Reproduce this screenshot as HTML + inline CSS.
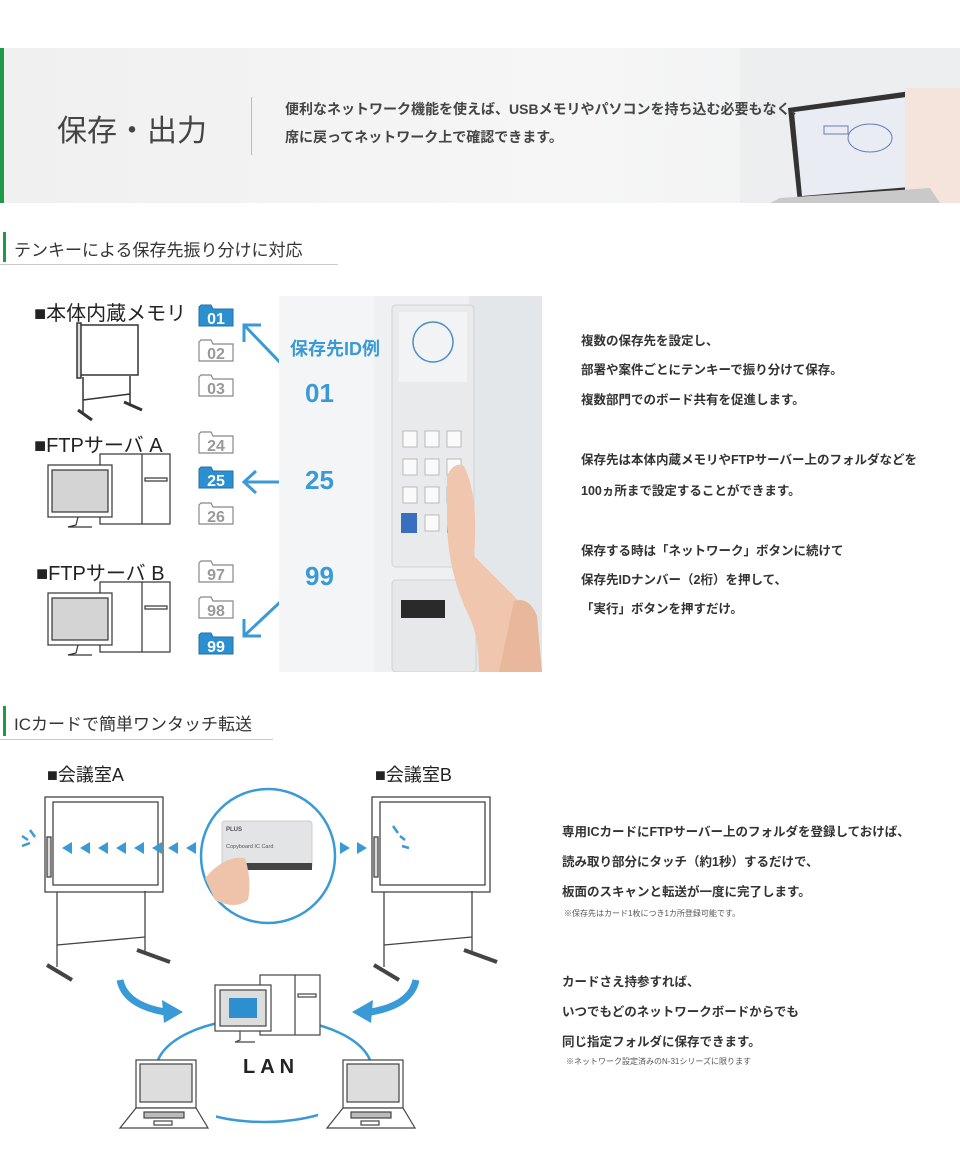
<!DOCTYPE html>
<html><head><meta charset="utf-8">
<style>
*{margin:0;padding:0;box-sizing:border-box}
body{width:960px;height:1158px;background:#fff;position:relative;overflow:hidden;font-family:"Liberation Sans","Noto Sans CJK JP",sans-serif;color:#333}
.a{position:absolute;white-space:nowrap}
.t{font-size:12.5px;font-weight:bold;color:#333}
.n{font-size:8px;color:#555}
</style></head><body>
<!-- header -->
<div class="a" style="left:0;top:48px;width:960px;height:155px;background:linear-gradient(90deg,#f0f0f0,#f6f6f6 60%,#eef0f2)"></div>
<svg class="a" style="left:740px;top:48px" width="220" height="155">
<rect x="0" y="0" width="220" height="155" fill="#eceeef"/>
<polygon points="48,60 178,42 188,145 58,155" fill="#333"/>
<polygon points="54,64 174,48 182,138 62,148" fill="#e9edf3"/>
<ellipse cx="130" cy="90" rx="22" ry="14" fill="none" stroke="#6a7ab8"/>
<rect x="84" y="78" width="24" height="8" fill="none" stroke="#6a7ab8"/>
<rect x="165" y="40" width="55" height="115" fill="#f4e4dc"/>
<polygon points="40,150 190,140 200,155 30,155" fill="#c9c9c9"/>
</svg>
<div class="a" style="left:0;top:48px;width:4px;height:155px;background:#1f9a48"></div>
<div class="a" style="left:57px;top:106px;font-size:30px;color:#444">保存・出力</div>
<div class="a" style="left:251px;top:97px;width:1px;height:58px;background:#bbb"></div>
<div class="a" style="left:285px;top:99px;font-size:14px;font-weight:bold;color:#444">便利なネットワーク機能を使えば、USBメモリやパソコンを持ち込む必要もなく、</div>
<div class="a" style="left:285px;top:127px;font-size:14px;font-weight:bold;color:#444">席に戻ってネットワーク上で確認できます。</div>
<!-- section1 heading -->
<div class="a" style="left:3px;top:232px;width:3px;height:30px;background:#1f9a48"></div>
<div class="a" style="left:14px;top:236px;font-size:17px;color:#333">テンキーによる保存先振り分けに対応</div>
<div class="a" style="left:0;top:264px;width:338px;height:1px;background:#ccc"></div>
<!-- left labels -->
<div class="a" style="left:34px;top:297px;font-size:20px;color:#222">■本体内蔵メモリ</div>
<div class="a" style="left:34px;top:429px;font-size:20px;color:#222">■FTPサーバ A</div>
<div class="a" style="left:36px;top:557px;font-size:20px;color:#222">■FTPサーバ B</div>
<svg class="a" style="left:0;top:290px" width="280" height="380">
<defs>
<g id="fw"><path d="M0,4 L0,23 L34,23 L34,6 L14,6 L12,2 L2,2 Z" fill="#fff" stroke="#888" stroke-width="1.2"/></g>
<g id="fb"><path d="M0,4 L0,23 L34,23 L34,6 L14,6 L12,2 L2,2 Z" fill="#2b8fd0" stroke="#236fa6" stroke-width="1"/></g>
</defs>
<!-- whiteboard -->
<g stroke="#333" fill="none" stroke-width="1.5">
<rect x="80" y="35" width="58" height="50" fill="#fff"/>
<rect x="77" y="33" width="4" height="55" fill="#ddd"/>
<line x1="83" y1="87" x2="83" y2="122"/><line x1="130" y1="86" x2="130" y2="115"/>
<line x1="83" y1="110" x2="130" y2="104"/>
<line x1="78" y1="120" x2="92" y2="130" stroke-width="3"/><line x1="124" y1="112" x2="142" y2="120" stroke-width="3"/>
</g>
<!-- computer A -->
<g stroke="#333" stroke-width="1.2">
<rect x="100" y="164" width="70" height="70" fill="#fff"/>
<line x1="142" y1="164" x2="142" y2="234"/>
<rect x="145" y="188" width="22" height="3" fill="#fff"/>
<rect x="48" y="175" width="64" height="52" fill="#fff"/>
<rect x="52" y="180" width="56" height="42" fill="#d4d4d4"/>
<path d="M78,227 L76,235 L68,237 L92,237" fill="none"/>
</g>
<g stroke="#333" stroke-width="1.2" transform="translate(0,128)">
<rect x="100" y="164" width="70" height="70" fill="#fff"/>
<line x1="142" y1="164" x2="142" y2="234"/>
<rect x="145" y="188" width="22" height="3" fill="#fff"/>
<rect x="48" y="175" width="64" height="52" fill="#fff"/>
<rect x="52" y="180" width="56" height="42" fill="#d4d4d4"/>
<path d="M78,227 L76,235 L68,237 L92,237" fill="none"/>
</g>
<!-- folders -->
<g font-family="Liberation Sans,sans-serif" font-size="16" font-weight="bold" text-anchor="middle">
<use href="#fb" x="199" y="13"/><text x="216" y="34" fill="#fff">01</text>
<use href="#fw" x="199" y="48"/><text x="216" y="69" fill="#999">02</text>
<use href="#fw" x="199" y="83"/><text x="216" y="104" fill="#999">03</text>
<use href="#fw" x="199" y="140"/><text x="216" y="161" fill="#999">24</text>
<use href="#fb" x="199" y="175"/><text x="216" y="196" fill="#fff">25</text>
<use href="#fw" x="199" y="211"/><text x="216" y="232" fill="#999">26</text>
<use href="#fw" x="199" y="269"/><text x="216" y="290" fill="#999">97</text>
<use href="#fw" x="199" y="305"/><text x="216" y="326" fill="#999">98</text>
<use href="#fb" x="199" y="341"/><text x="216" y="362" fill="#fff">99</text>
</g>
<g stroke="#3a9ad6" stroke-width="3" fill="none">
<line x1="295" y1="88" x2="245" y2="36"/><polyline points="244,52 244,35 261,35"/>
<line x1="297" y1="192" x2="245" y2="192"/><polyline points="256,181 244,192 256,203"/>
<line x1="293" y1="300" x2="245" y2="345"/><polyline points="244,329 244,346 261,346"/>
</g>
</svg>
<!-- photo -->
<svg class="a" style="left:279px;top:296px" width="263" height="376">
<rect width="263" height="376" fill="#eef0f1"/>
<rect x="0" y="0" width="95" height="376" fill="#f4f5f6"/>
<rect x="190" y="0" width="73" height="376" fill="#e4e7e9"/>
<rect x="113" y="9" width="82" height="262" rx="4" fill="#e8eaeb" stroke="#cfd3d6"/>
<rect x="120" y="16" width="68" height="70" fill="#f2f3f4"/>
<circle cx="154" cy="46" r="20" fill="none" stroke="#4a8fc8" stroke-width="1.5"/>
<g fill="#fafafa" stroke="#bbb">
<rect x="124" y="135" width="14" height="16"/><rect x="146" y="135" width="14" height="16"/><rect x="168" y="135" width="14" height="16"/>
<rect x="124" y="163" width="14" height="16"/><rect x="146" y="163" width="14" height="16"/><rect x="168" y="163" width="14" height="16"/>
<rect x="124" y="191" width="14" height="16"/><rect x="146" y="191" width="14" height="16"/><rect x="168" y="191" width="14" height="16"/>
<rect x="146" y="219" width="14" height="16"/>
</g>
<rect x="122" y="217" width="16" height="20" fill="#3a6fc0"/><rect x="168" y="217" width="16" height="20" fill="#d0455a"/>
<rect x="113" y="284" width="84" height="92" rx="4" fill="#e6e8e9" stroke="#cfd3d6"/>
<rect x="122" y="304" width="44" height="18" fill="#2a2a2a"/>
<path d="M168,180 Q175,165 185,170 Q200,200 195,260 L235,300 Q260,330 263,376 L200,376 Q200,340 190,320 Q170,280 168,230 Z" fill="#f0c6ae"/>
<path d="M235,305 Q250,300 258,320 L263,376 L220,376 Z" fill="#e9b89c"/>
</svg>
<div class="a" style="left:290px;top:335px;font-size:18px;font-weight:bold;color:#3a9ad6">保存先ID例</div>
<div class="a" style="left:305px;top:378px;font-size:26px;font-weight:bold;color:#3a9ad6">01</div>
<div class="a" style="left:305px;top:465px;font-size:26px;font-weight:bold;color:#3a9ad6">25</div>
<div class="a" style="left:305px;top:561px;font-size:26px;font-weight:bold;color:#3a9ad6">99</div>
<!-- right text 1 -->
<div class="a t" style="left:581px;top:330px">複数の保存先を設定し、</div>
<div class="a t" style="left:581px;top:359px">部署や案件ごとにテンキーで振り分けて保存。</div>
<div class="a t" style="left:581px;top:389px">複数部門でのボード共有を促進します。</div>
<div class="a t" style="left:581px;top:449px">保存先は本体内蔵メモリやFTPサーバー上のフォルダなどを</div>
<div class="a t" style="left:581px;top:480px">100ヵ所まで設定することができます。</div>
<div class="a t" style="left:581px;top:540px">保存する時は「ネットワーク」ボタンに続けて</div>
<div class="a t" style="left:581px;top:569px">保存先IDナンバー（2桁）を押して、</div>
<div class="a t" style="left:581px;top:598px">「実行」ボタンを押すだけ。</div>
<!-- section2 heading -->
<div class="a" style="left:3px;top:706px;width:3px;height:30px;background:#1f9a48"></div>
<div class="a" style="left:14px;top:710px;font-size:17px;color:#333">ICカードで簡単ワンタッチ転送</div>
<div class="a" style="left:0;top:739px;width:273px;height:1px;background:#ccc"></div>
<div class="a" style="left:47px;top:761px;font-size:18px;color:#222">■会議室A</div>
<div class="a" style="left:375px;top:761px;font-size:18px;color:#222">■会議室B</div>
<svg class="a" style="left:0;top:750px" width="520" height="408">
<defs>
<g id="wb" stroke="#444" stroke-width="1.3" fill="#fff">
<rect x="0" y="0" width="118" height="95"/>
<rect x="8" y="5" width="105" height="83"/>
<rect x="2" y="40" width="4" height="40" fill="#ddd"/>
<line x1="12" y1="95" x2="12" y2="170" fill="none"/><line x1="100" y1="94" x2="100" y2="155" fill="none"/>
<line x1="12" y1="148" x2="100" y2="140" fill="none"/>
<line x1="2" y1="168" x2="27" y2="183" stroke-width="4"/><line x1="92" y1="153" x2="125" y2="165" stroke-width="4"/>
</g>
<g id="lp" stroke="#444" stroke-width="1.2" fill="#fff">
<rect x="16" y="0" width="60" height="48"/><rect x="20" y="4" width="52" height="38" fill="#ddd"/>
<path d="M16,48 L0,68 L88,68 L76,48 Z"/>
<rect x="24" y="52" width="40" height="6" fill="#bbb"/><rect x="34" y="61" width="18" height="4"/>
</g>
</defs>
<use href="#wb" x="45" y="47"/>
<use href="#wb" x="372" y="47"/>
<g fill="#3a9ad6">
<polygon points="62,98 72,92 72,104"/><polygon points="80,98 90,92 90,104"/><polygon points="98,98 108,92 108,104"/><polygon points="116,98 126,92 126,104"/><polygon points="134,98 144,92 144,104"/><polygon points="152,98 162,92 162,104"/><polygon points="168,98 178,92 178,104"/><polygon points="186,98 196,92 196,104"/>
<polygon points="350,98 340,92 340,104"/><polygon points="367,98 357,92 357,104"/>
</g>
<g stroke="#3a9ad6" stroke-width="2.5">
<line x1="22" y1="96" x2="30" y2="93"/><line x1="30" y1="80" x2="35" y2="87"/><line x1="22" y1="86" x2="28" y2="90"/>
<line x1="393" y1="76" x2="398" y2="83"/><line x1="400" y1="86" x2="405" y2="90"/><line x1="402" y1="96" x2="409" y2="98"/>
</g>
<circle cx="268" cy="106" r="67" fill="#fff" stroke="#3a9ad6" stroke-width="2.5"/>
<rect x="222" y="71" width="90" height="47" rx="3" fill="#e2e4e6" stroke="#ccc"/>
<rect x="222" y="113" width="90" height="7" fill="#444"/>
<text x="226" y="81" font-size="6" font-weight="bold" fill="#555">PLUS</text>
<text x="226" y="98" font-size="5.5" fill="#555">Copyboard IC Card</text>
<path d="M205,128 Q225,105 245,108 Q252,130 248,150 Q235,160 215,150 Z" fill="#efc3aa"/>
<!-- curved arrows -->
<path d="M120,230 Q125,255 165,262" fill="none" stroke="#3a9ad6" stroke-width="7"/>
<polygon points="183,262 162,250 164,273" fill="#3a9ad6"/>
<path d="M416,230 Q411,255 371,262" fill="none" stroke="#3a9ad6" stroke-width="7"/>
<polygon points="352,262 373,250 371,273" fill="#3a9ad6"/>
<!-- LAN ellipse -->
<ellipse cx="264" cy="320" rx="108" ry="52" fill="none" stroke="#3a9ad6" stroke-width="2.5"/>
<!-- server -->
<g stroke="#444" stroke-width="1.2" fill="#fff">
<rect x="260" y="225" width="60" height="60"/><line x1="295" y1="225" x2="295" y2="285"/>
<rect x="298" y="244" width="18" height="3"/>
<rect x="215" y="235" width="56" height="46"/><rect x="220" y="240" width="46" height="36" fill="#ddd"/>
<path d="M240,281 L240,290 L235,292 L255,292"/>
</g>
<rect x="229" y="248" width="28" height="20" fill="#2b8fd0"/>
<rect x="120" y="310" width="96" height="70" fill="#fff"/>
<rect x="318" y="310" width="96" height="70" fill="#fff"/>
<use href="#lp" x="120" y="310"/>
<use href="#lp" x="327" y="310"/>
<text x="243" y="323" font-size="20" font-weight="bold" fill="#222" letter-spacing="5" font-family="Liberation Sans,sans-serif">LAN</text>
</svg>
<!-- right text 2 -->
<div class="a t" style="left:562px;top:821px">専用ICカードにFTPサーバー上のフォルダを登録しておけば、</div>
<div class="a t" style="left:562px;top:851px">読み取り部分にタッチ（約1秒）するだけで、</div>
<div class="a t" style="left:562px;top:881px">板面のスキャンと転送が一度に完了します。</div>
<div class="a n" style="left:564px;top:908px">※保存先はカード1枚につき1カ所登録可能です。</div>
<div class="a t" style="left:562px;top:971px">カードさえ持参すれば、</div>
<div class="a t" style="left:562px;top:1001px">いつでもどのネットワークボードからでも</div>
<div class="a t" style="left:562px;top:1031px">同じ指定フォルダに保存できます。</div>
<div class="a n" style="left:566px;top:1056px">※ネットワーク設定済みのN-31シリーズに限ります</div>
</body></html>
